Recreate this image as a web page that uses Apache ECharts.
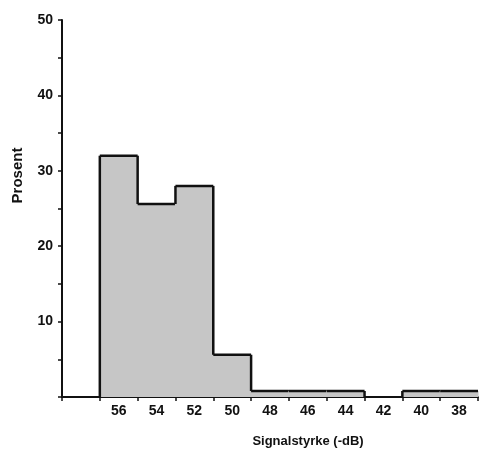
<!DOCTYPE html>
<html>
<head>
<meta charset="utf-8">
<script src="https://cdn.jsdelivr.net/npm/echarts@6/dist/echarts.min.js"></script>
<style>
  html, body { margin: 0; padding: 0; background: #fff; }
  #chart { width: 480px; height: 457px; }
</style>
</head>
<body>
<div id="chart"></div>
<script>
// first category is an empty slot between the y axis and the 56 bar
var categories = ['', '56', '54', '52', '50', '48', '46', '44', '42', '40', '38'];
var prosent = [0, 32, 25.6, 28, 5.6, 0.8, 0.8, 0.8, 0, 0.8, 0.8];

var chart = echarts.init(document.getElementById('chart'));

// histogram bar: grey fill plus the outline step (top and the changing edge)
function renderBar(params, api) {
  var i = api.value(0);
  var v = api.value(1);
  var prev = i > 0 ? prosent[i - 1] : 0;
  var w = api.size([1, 0])[0];
  var c = api.coord([i, v]);
  var base = api.coord([i, 0]);
  var left = c[0] - w / 2;
  var right = c[0] + w / 2;
  var prevTop = api.coord([i, prev])[1];
  var children = [];
  if (v > 0) {
    children.push({
      type: 'rect',
      shape: { x: left - 0.5, y: c[1], width: w + 1, height: base[1] - c[1] },
      style: { fill: '#c6c6c6' }
    });
    children.push({
      type: 'line',
      shape: { x1: left, y1: c[1], x2: right, y2: c[1] },
      style: { stroke: '#111', lineWidth: 2.5 }
    });
  }
  if (v !== prev) {
    children.push({
      type: 'line',
      shape: { x1: left, y1: c[1], x2: left, y2: prevTop },
      style: { stroke: '#111', lineWidth: 2.5 }
    });
  }
  return { type: 'group', children: children };
}

var labelFont = {
  fontFamily: 'Liberation Sans',
  fontWeight: 'bold',
  fontSize: 14,
  color: '#111'
};

var option = {
  backgroundColor: '#fff',
  animation: false,
  grid: {
    left: 62,
    right: 2,
    top: 20,
    bottom: 60
  },
  xAxis: {
    type: 'category',
    data: categories,
    boundaryGap: true,
    name: 'Signalstyrke (-dB)',
    nameLocation: 'middle',
    nameGap: 38,
    nameTextStyle: {
      fontFamily: 'Liberation Sans',
      fontWeight: 'bold',
      fontSize: 13,
      color: '#111',
      padding: [0, 0, 0, 76]
    },
    axisLine: { lineStyle: { color: '#111', width: 2 } },
    axisTick: { show: true, length: 4, lineStyle: { color: '#111', width: 1.5 } },
    axisLabel: Object.assign({ margin: 7 }, labelFont),
    splitLine: { show: false }
  },
  yAxis: {
    type: 'value',
    min: 0,
    max: 50,
    interval: 10,
    name: 'Prosent',
    nameLocation: 'middle',
    nameRotate: 90,
    nameGap: 37,
    nameTextStyle: {
      fontFamily: 'Liberation Sans',
      fontWeight: 'bold',
      fontSize: 15,
      color: '#111',
      padding: [0, 0, 0, 66]
    },
    axisLine: { show: true, lineStyle: { color: '#111', width: 2 } },
    axisTick: { show: true, length: 4, lineStyle: { color: '#111', width: 1.5 } },
    minorTick: { show: true, splitNumber: 2, length: 4, lineStyle: { color: '#111', width: 1.5 } },
    axisLabel: Object.assign({
      margin: 9,
      formatter: function (val) { return val === 0 ? '' : val; }
    }, labelFont),
    splitLine: { show: false }
  },
  series: [{
    type: 'custom',
    renderItem: renderBar,
    encode: { x: 0, y: 1 },
    data: prosent.map(function (v, i) { return [i, v]; }),
    z: 1
  }]
};

chart.setOption(option);
</script>
</body>
</html>
